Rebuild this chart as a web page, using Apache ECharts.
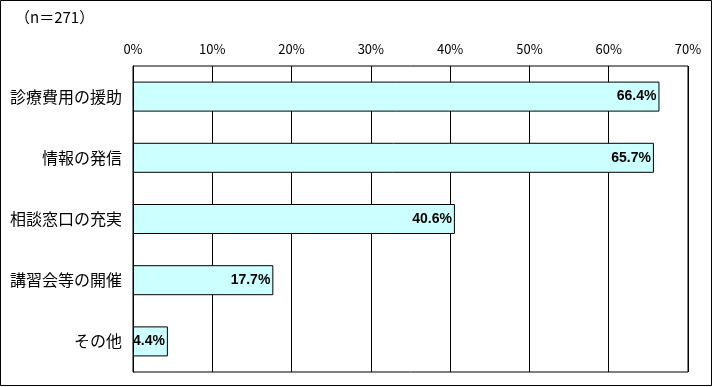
<!DOCTYPE html>
<html><head><meta charset="utf-8">
<script src="https://cdn.jsdelivr.net/npm/echarts@6/dist/echarts.min.js"></script>
<style>html,body{margin:0;padding:0;background:#fff}#c{width:713px;height:387px}</style>
</head><body><div id="c"></div>
<script>
const categories = ['診療費用の援助','情報の発信','相談窓口の充実','講習会等の開催','その他'];
const values = [66.4, 65.7, 40.6, 17.7, 4.4];
const titleText = '（n＝271）';
const font = '"Noto Sans CJK JP", sans-serif';
const chart = echarts.init(document.getElementById('c'));
chart.setOption({
  animation: false,
  backgroundColor: '#fff',
  graphic: [{type:'rect', shape:{x:0.5,y:0.5,width:711,height:385}, style:{fill:'none', stroke:'#000', lineWidth:1}, z:100},
    {type:'text', left:15, top:10, style:{text:titleText, font:'15px '+font, fill:'#000'}}],
  grid: {left:133, right:25, top:66, bottom:15, show:true, borderColor:'#000', borderWidth:1},
  xAxis: {type:'value', position:'top', min:0, max:70, interval:10,
    axisLine:{show:false}, axisTick:{show:false},
    axisLabel:{formatter:'{value}%', color:'#000', fontSize:13, fontFamily:font, margin:10},
    splitLine:{show:true, lineStyle:{color:'#000', width:1}}},
  yAxis: {type:'category', data:categories, inverse:true,
    axisLine:{show:true, lineStyle:{color:'#000'}}, axisTick:{show:false},
    axisLabel:{color:'#000', fontSize:16, fontFamily:font, margin:11}},
  series: [{type:'bar', data:values, barWidth:30,
    itemStyle:{color:'#CCFFFF', borderColor:'#000', borderWidth:1},
    label:{show:true, position:'insideRight', formatter:p=>p.value.toFixed(1)+'%', color:'#000', fontWeight:'bold', fontSize:14, fontFamily:'"Liberation Sans", sans-serif', distance:3}}]
});
</script></body></html>
